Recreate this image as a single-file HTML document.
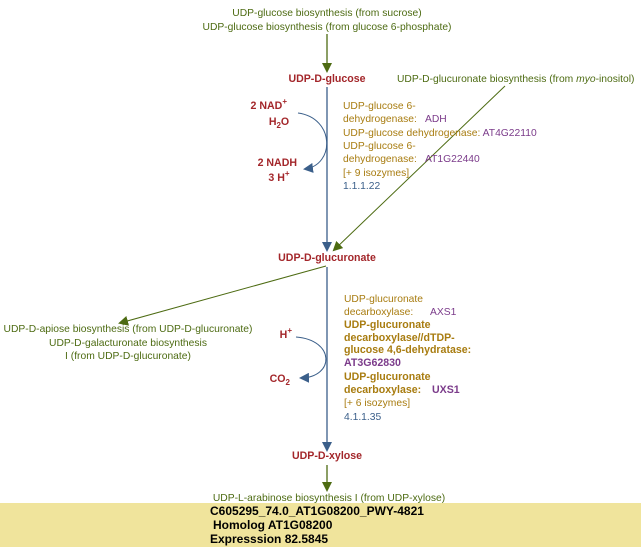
<!DOCTYPE html>
<html><head><meta charset="utf-8"><style>
body{margin:0;width:641px;height:547px;overflow:hidden;background:#fff;position:relative;font-family:"Liberation Sans",sans-serif}
svg{position:absolute;left:0;top:0}
text{font-family:"Liberation Sans",sans-serif;font-size:10.3px}
.g{fill:#4d6b12}.c{fill:#a3262a;font-weight:bold;font-size:10.6px}.e{fill:#a87c10}.eb{fill:#a87c10;font-weight:bold;font-size:10.6px}.p{fill:#7b3b8a}.pb{fill:#7b3b8a;font-weight:bold;font-size:10.6px}.b{fill:#3b5f8a}
</style></head><body>
<svg width="641" height="547">
<rect x="0" y="503" width="641" height="44" fill="#f0e49c"/>
<defs>
<marker id="ag" markerWidth="10" markerHeight="10" refX="8" refY="5" orient="auto" markerUnits="userSpaceOnUse"><path d="M0,0 L10,5 L0,10z" fill="#4d6b12"/></marker>
<marker id="ab" markerWidth="10" markerHeight="10" refX="8" refY="5" orient="auto" markerUnits="userSpaceOnUse"><path d="M0,0 L10,5 L0,10z" fill="#3b5f8a"/></marker>
</defs>
<text class="g" x="327" y="16" text-anchor="middle">UDP-glucose biosynthesis (from sucrose)</text>
<text class="g" x="327" y="30" text-anchor="middle">UDP-glucose biosynthesis (from glucose 6-phosphate)</text>
<line x1="327" y1="34" x2="327" y2="71" stroke="#4d6b12" stroke-width="1.3" marker-end="url(#ag)"/>
<text class="c" x="327" y="82" text-anchor="middle">UDP-D-glucose</text>
<text class="g" x="397" y="82">UDP-D-glucuronate biosynthesis (from <tspan font-style="italic">myo</tspan>-inositol)</text>
<line x1="327" y1="87" x2="327" y2="250" stroke="#3b5f8a" stroke-width="1.3" marker-end="url(#ab)"/>
<line x1="505" y1="86" x2="334" y2="250" stroke="#4d6b12" stroke-width="1" marker-end="url(#ag)"/>
<text class="c" x="287" y="109" text-anchor="end">2 NAD<tspan font-size="8" dy="-5">+</tspan></text>
<text class="c" x="279" y="125" text-anchor="middle">H<tspan font-size="8" dy="3">2</tspan><tspan dy="-3">O</tspan></text>
<text class="c" x="297" y="166" text-anchor="end">2 NADH</text>
<text class="c" x="279" y="181" text-anchor="middle">3 H<tspan font-size="8" dy="-5">+</tspan></text>
<path d="M298,113 C335,118 335,165 305,169" fill="none" stroke="#3b5f8a" stroke-width="1" marker-end="url(#ab)"/>
<text class="e" x="343" y="109">UDP-glucose 6-</text>
<text class="e" x="343" y="122">dehydrogenase:</text><text class="p" x="425" y="122">ADH</text>
<text class="e" x="343" y="136">UDP-glucose dehydrogenase: <tspan class="p">AT4G22110</tspan></text>
<text class="e" x="343" y="149">UDP-glucose 6-</text>
<text class="e" x="343" y="162">dehydrogenase:</text><text class="p" x="425" y="162">AT1G22440</text>
<text class="e" x="343" y="176">[+ 9 isozymes]</text>
<text class="b" x="343" y="189">1.1.1.22</text>
<text class="c" x="327" y="261" text-anchor="middle">UDP-D-glucuronate</text>
<line x1="327" y1="267" x2="327" y2="450" stroke="#3b5f8a" stroke-width="1.3" marker-end="url(#ab)"/>
<line x1="326" y1="266" x2="120" y2="323" stroke="#4d6b12" stroke-width="1" marker-end="url(#ag)"/>
<text class="g" x="128" y="332" text-anchor="middle">UDP-D-apiose biosynthesis (from UDP-D-glucuronate)</text>
<text class="g" x="128" y="346" text-anchor="middle">UDP-D-galacturonate biosynthesis</text>
<text class="g" x="128" y="359" text-anchor="middle">I (from UDP-D-glucuronate)</text>
<text class="c" x="292" y="338" text-anchor="end">H<tspan font-size="8" dy="-5">+</tspan></text>
<text class="c" x="290" y="382" text-anchor="end">CO<tspan font-size="8" dy="3">2</tspan></text>
<path d="M296,337 C335,340 335,377 301,378" fill="none" stroke="#3b5f8a" stroke-width="1" marker-end="url(#ab)"/>
<text class="e" x="344" y="302">UDP-glucuronate</text>
<text class="e" x="344" y="315">decarboxylase:</text><text class="p" x="430" y="315">AXS1</text>
<text class="eb" x="344" y="328">UDP-glucuronate</text>
<text class="eb" x="344" y="341">decarboxylase//dTDP-</text>
<text class="eb" x="344" y="353">glucose 4,6-dehydratase:</text>
<text class="pb" x="344" y="366">AT3G62830</text>
<text class="eb" x="344" y="380">UDP-glucuronate</text>
<text class="eb" x="344" y="393">decarboxylase:</text><text class="pb" x="432" y="393">UXS1</text>
<text class="e" x="344" y="406">[+ 6 isozymes]</text>
<text class="b" x="344" y="420">4.1.1.35</text>
<text class="c" x="327" y="459" text-anchor="middle">UDP-D-xylose</text>
<line x1="327" y1="465" x2="327" y2="490" stroke="#4d6b12" stroke-width="1.3" marker-end="url(#ag)"/>
<text class="g" x="329" y="501" text-anchor="middle">UDP-L-arabinose biosynthesis I (from UDP-xylose)</text>
<text x="210" y="515" style="font-weight:bold;font-size:12px" fill="#000">C605295_74.0_AT1G08200_PWY-4821</text>
<text x="213" y="529" style="font-weight:bold;font-size:12px" fill="#000">Homolog AT1G08200</text>
<text x="210" y="543" style="font-weight:bold;font-size:12px" fill="#000">Expresssion 82.5845</text>
</svg>
</body></html>
